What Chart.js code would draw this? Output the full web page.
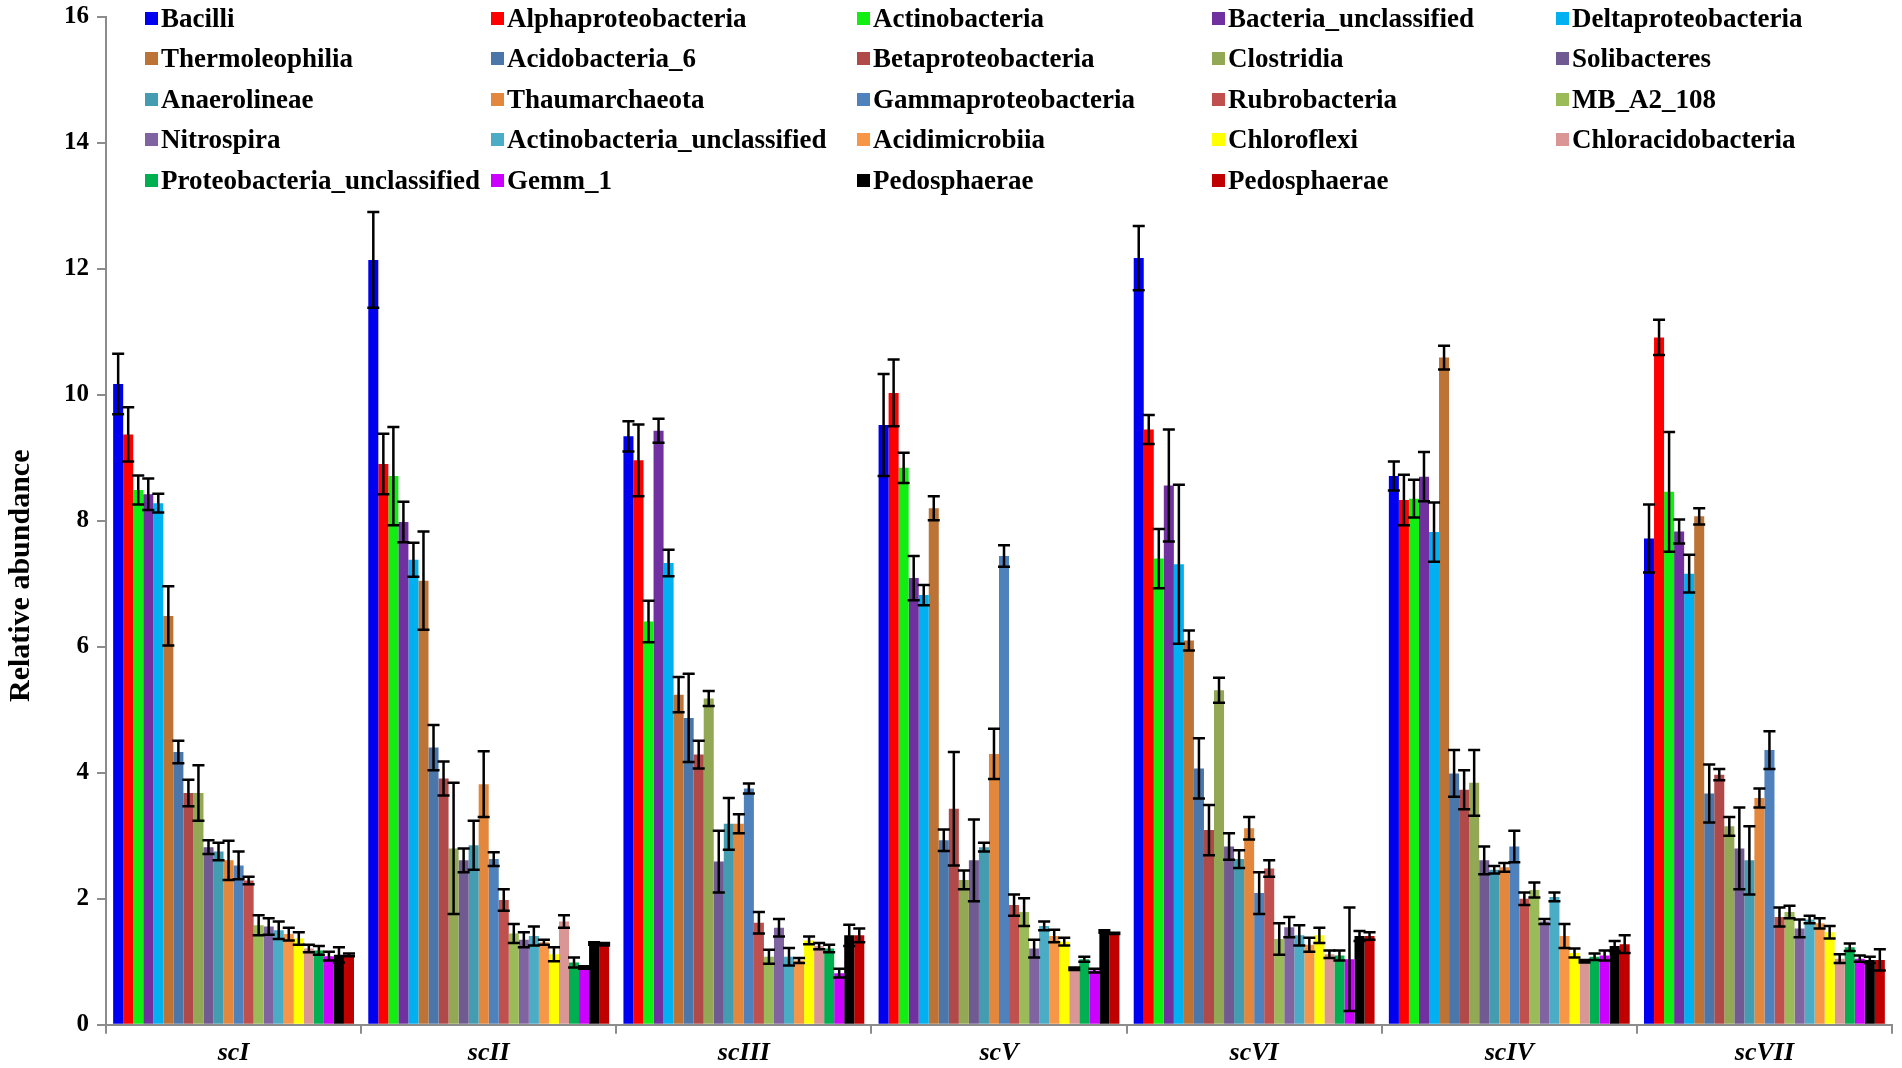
<!DOCTYPE html>
<html>
<head>
<meta charset="utf-8">
<script src="https://cdn.jsdelivr.net/npm/chart.js@4.4.1/dist/chart.umd.min.js"></script>
<style>
  body { margin: 0; background: #fff; }
  #wrap { position: relative; width: 1902px; height: 1068px; }
  #legend {
    position: absolute; top: -2px; left: 145px;
    display: grid;
    grid-template-columns: 346px 366px 355px 344px 330px;
    grid-auto-rows: 40.5px;
    font: bold 27px "Liberation Serif", serif;
    color: #000;
  }
  #legend div { display: flex; align-items: center; white-space: nowrap; }
  #legend span.box { width: 13px; height: 13px; margin-right: 3px; flex: none; }
</style>
</head>
<body>
<div id="wrap">
  <canvas id="chartAbundance"></canvas>
  <div id="legend"></div>
</div>
<script>
// sample groups (x axis order as in the figure)
const grupos = ['scI', 'scII', 'scIII', 'scV', 'scVI', 'scIV', 'scVII']

const taxa = ['Bacilli', 'Alphaproteobacteria', 'Actinobacteria', 'Bacteria_unclassified', 'Deltaproteobacteria',
  'Thermoleophilia', 'Acidobacteria_6', 'Betaproteobacteria', 'Clostridia', 'Solibacteres',
  'Anaerolineae', 'Thaumarchaeota', 'Gammaproteobacteria', 'Rubrobacteria', 'MB_A2_108',
  'Nitrospira', 'Actinobacteria_unclassified', 'Acidimicrobiia', 'Chloroflexi', 'Chloracidobacteria',
  'Proteobacteria_unclassified', 'Gemm_1', 'Pedosphaerae', 'Pedosphaerae']

const colores = ['#0000f0', '#ff0000', '#11ee11', '#7030a0', '#00b0f0',
  '#bd7336', '#4a76aa', '#b04a48', '#92a854', '#715a92',
  '#449cb0', '#e2873c', '#4f81bd', '#c0504d', '#9bbb59',
  '#8064a2', '#4bacc6', '#f79646', '#ffff00', '#d99694',
  '#00b050', '#cc00ff', '#000000', '#c00000']

// relative abundance per group, one value per taxon (same order as taxa)
const scI = [10.17, 9.37, 8.49, 8.42, 8.28, 6.49, 4.33, 3.68, 3.68, 2.82, 2.75, 2.61, 2.53, 2.29, 1.58, 1.56, 1.5, 1.44, 1.37, 1.21, 1.18, 1.09, 1.11, 1.11]
const scII = [12.14, 8.9, 8.71, 7.98, 7.38, 7.05, 4.4, 3.91, 2.8, 2.61, 2.85, 3.82, 2.63, 1.98, 1.45, 1.35, 1.41, 1.31, 1.12, 1.64, 0.99, 0.91, 1.29, 1.28]
const scIII = [9.34, 8.96, 6.4, 9.43, 7.33, 5.24, 4.87, 4.29, 5.18, 2.59, 3.19, 3.19, 3.75, 1.62, 1.08, 1.54, 1.08, 1.02, 1.34, 1.25, 1.21, 0.82, 1.42, 1.42]
const scV = [9.52, 10.03, 8.84, 7.09, 6.82, 8.2, 2.93, 3.43, 2.3, 2.61, 2.82, 4.3, 7.44, 1.9, 1.79, 1.21, 1.57, 1.41, 1.32, 0.89, 1.04, 0.86, 1.48, 1.45]
const scVI = [12.17, 9.45, 7.4, 8.56, 7.31, 6.1, 4.07, 3.09, 5.31, 2.83, 2.63, 3.12, 2.09, 2.48, 1.36, 1.55, 1.42, 1.27, 1.42, 1.12, 1.1, 1.04, 1.41, 1.41]
const scIV = [8.71, 8.33, 8.35, 8.7, 7.82, 10.59, 3.99, 3.73, 3.84, 2.61, 2.46, 2.5, 2.83, 2.0, 2.14, 1.64, 2.03, 1.41, 1.14, 1.01, 1.08, 1.1, 1.25, 1.28]
const scVII = [7.72, 10.91, 8.46, 7.83, 7.16, 8.07, 3.67, 3.97, 3.15, 2.8, 2.61, 3.6, 4.36, 1.71, 1.79, 1.53, 1.67, 1.61, 1.47, 1.05, 1.23, 1.05, 1.03, 1.03]

// error (+/-) for each bar
const scI_err = [0.48, 0.43, 0.23, 0.25, 0.15, 0.47, 0.18, 0.21, 0.44, 0.11, 0.14, 0.31, 0.22, 0.06, 0.16, 0.13, 0.14, 0.1, 0.1, 0.06, 0.07, 0.07, 0.12, 0.02]
const scII_err = [0.76, 0.48, 0.78, 0.32, 0.27, 0.78, 0.36, 0.27, 1.04, 0.19, 0.39, 0.52, 0.11, 0.17, 0.15, 0.12, 0.15, 0.04, 0.11, 0.1, 0.08, 0.02, 0.02, 0.02]
const scIII_err = [0.24, 0.57, 0.33, 0.19, 0.21, 0.28, 0.7, 0.22, 0.12, 0.49, 0.41, 0.15, 0.08, 0.17, 0.11, 0.14, 0.14, 0.04, 0.06, 0.05, 0.06, 0.07, 0.17, 0.11]
const scV_err = [0.81, 0.53, 0.24, 0.35, 0.16, 0.19, 0.17, 0.9, 0.15, 0.65, 0.07, 0.4, 0.17, 0.17, 0.22, 0.14, 0.07, 0.1, 0.06, 0.02, 0.04, 0.03, 0.02, 0.01]
const scVI_err = [0.51, 0.23, 0.47, 0.89, 1.26, 0.16, 0.48, 0.4, 0.2, 0.21, 0.14, 0.18, 0.33, 0.13, 0.25, 0.16, 0.16, 0.11, 0.12, 0.06, 0.08, 0.82, 0.08, 0.06]
const scIV_err = [0.23, 0.4, 0.3, 0.39, 0.47, 0.19, 0.37, 0.31, 0.52, 0.22, 0.06, 0.07, 0.25, 0.1, 0.12, 0.04, 0.07, 0.19, 0.07, 0.02, 0.05, 0.08, 0.08, 0.14]
const scVII_err = [0.54, 0.28, 0.95, 0.19, 0.3, 0.13, 0.46, 0.09, 0.15, 0.65, 0.54, 0.15, 0.3, 0.15, 0.1, 0.14, 0.06, 0.08, 0.1, 0.07, 0.06, 0.05, 0.05, 0.17]

const yTicks = [0, 2, 4, 6, 8, 10, 12, 14, 16]
const yTitle = 'Relative abundance'

const valores = [scI, scII, scIII, scV, scVI, scIV, scVII]
const errores = [scI_err, scII_err, scIII_err, scV_err, scVI_err, scIV_err, scVII_err]

const datasets = taxa.map((name, i) => ({
  label: name,
  data: valores.map(g => g[i]),
  errors: errores.map(g => g[i]),
  backgroundColor: colores[i],
  borderWidth: 0,
  categoryPercentage: 0.944,
  barPercentage: 1.0
}))

// draws the +/- error bars on top of each bar
const errorBars = {
  id: 'errorBars',
  afterDatasetsDraw(chart) {
    const ctx = chart.ctx
    const y = chart.scales.y
    ctx.save()
    ctx.strokeStyle = '#000'
    ctx.lineWidth = 2.5
    chart.data.datasets.forEach((ds, i) => {
      chart.getDatasetMeta(i).data.forEach((bar, j) => {
        const v = ds.data[j], e = ds.errors[j]
        const top = y.getPixelForValue(v + e)
        const bot = y.getPixelForValue(v - e)
        const c = bar.width * 0.6
        ctx.beginPath()
        ctx.moveTo(bar.x, top); ctx.lineTo(bar.x, bot)
        ctx.moveTo(bar.x - c, top); ctx.lineTo(bar.x + c, top)
        ctx.moveTo(bar.x - c, bot); ctx.lineTo(bar.x + c, bot)
        ctx.stroke()
      })
    })
    ctx.restore()
  }
}

// y axis title, sitting a bit below the middle like in the original
const axisTitle = {
  id: 'axisTitle',
  afterDraw(chart) {
    const { ctx, chartArea } = chart
    ctx.save()
    ctx.translate(21, (chartArea.top + chartArea.bottom) / 2 + 55)
    ctx.rotate(-Math.PI / 2)
    ctx.font = 'bold 30px "Liberation Serif", serif'
    ctx.fillStyle = '#000'
    ctx.textAlign = 'center'
    ctx.textBaseline = 'middle'
    ctx.fillText(yTitle, 0, 0)
    ctx.restore()
  }
}

Chart.defaults.font.family = '"Liberation Serif", serif'
Chart.defaults.color = '#000'

const graphic = document.getElementById('chartAbundance')
const chart = new Chart(graphic, {
  type: 'bar',
  data: { labels: grupos, datasets: datasets },
  plugins: [errorBars, axisTitle],
  options: {
    responsive: true,
    maintainAspectRatio: false,
    animation: false,
    layout: { padding: { top: 0, right: 10, bottom: -5, left: 56 } },
    plugins: { legend: { display: false }, tooltip: { enabled: false } },
    scales: {
      x: {
        grid: { offset: true, drawOnChartArea: false, drawTicks: true, tickLength: 9, color: '#8c8c8c', lineWidth: 2 },
        border: { color: '#8c8c8c', width: 2 },
        ticks: { padding: 4, font: { size: 26, weight: 'bold', style: 'italic' } }
      },
      y: {
        min: 0,
        max: 16,
        afterBuildTicks: axis => { axis.ticks = yTicks.map(v => ({ value: v })) },
        grid: { drawOnChartArea: false, drawTicks: true, tickLength: 9, color: '#8c8c8c', lineWidth: 2 },
        border: { color: '#8c8c8c', width: 2 },
        ticks: { padding: 8, font: { size: 25, weight: 'bold', lineHeight: 0.7 } }
      }
    }
  }
})

// html legend in 5 columns, built from the chart datasets
const legend = document.getElementById('legend')
chart.data.datasets.forEach(ds => {
  const item = document.createElement('div')
  const box = document.createElement('span')
  box.className = 'box'
  box.style.background = ds.backgroundColor
  item.appendChild(box)
  item.appendChild(document.createTextNode(ds.label))
  legend.appendChild(item)
})
</script>
</body>
</html>
